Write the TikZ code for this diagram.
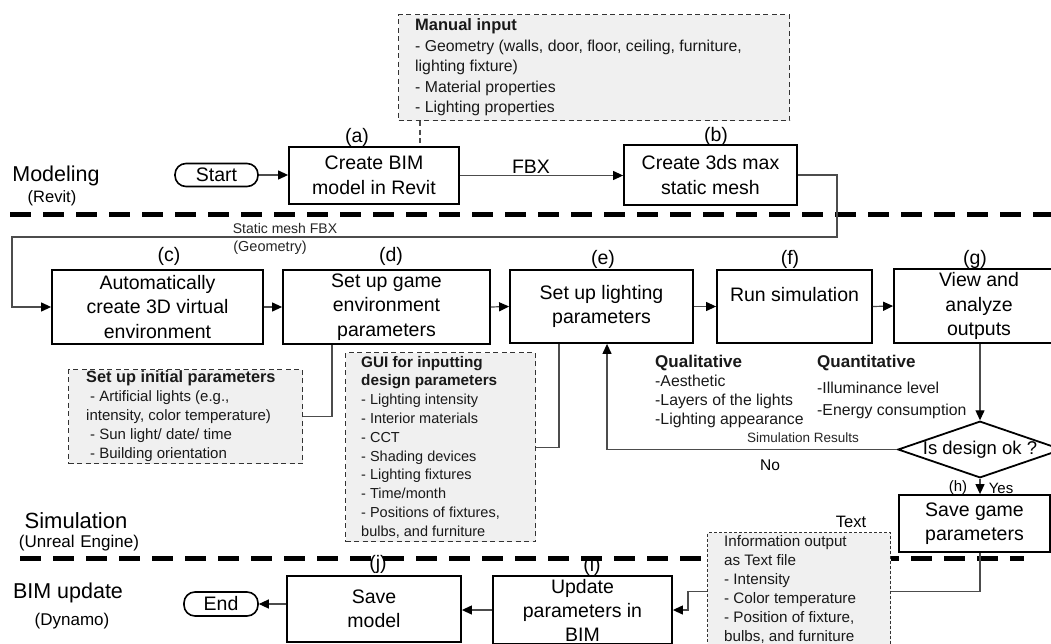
\documentclass[tikz,border=0pt]{standalone}
\usepackage{fontspec}
\setmainfont{Liberation Sans}
\usetikzlibrary{arrows.meta,shapes.geometric}
\begin{document}
\begin{tikzpicture}[x=1pt,y=-1pt,
  stepbox/.style={draw, line width=1.8pt, fill=white, inner sep=0pt, align=center,
    font=\fontsize{19.5}{24.5}\selectfont},
  term/.style={draw, line width=1.6pt, fill=white, rounded corners=11pt, inner sep=0pt,
    font=\fontsize{19.5}{24}\selectfont},
  decision/.style={draw, diamond, line width=1.8pt, fill=white, inner sep=0pt,
    shape aspect=2.9, minimum width=162, minimum height=55,
    font=\fontsize{18.5}{22}\selectfont},
  notebox/.style={draw=black!80, line width=1.2pt, dash pattern=on 5pt off 3.5pt,
    fill=black!6, inner sep=0pt},
  infobox/.style={notebox, dash pattern=on 3pt off 2pt},
  notetext/.style={align=left, inner sep=0pt, text=black!90},
  link/.style={draw=black!70, line width=1.2pt},
  conn/.style={link, -{Triangle[length=10pt,width=9pt,color=black]}},
  lbl/.style={inner sep=0pt, font=\fontsize{19.5}{24}\selectfont},
  small/.style={inner sep=0pt, font=\fontsize{14}{17}\selectfont, text=black!85},
  mid/.style={inner sep=0pt, font=\fontsize{15.5}{19}\selectfont},
  sect/.style={line width=5pt, dash pattern=on 21pt off 12pt},
]
\useasboundingbox (0,0) rectangle (1051,644);
\fill[white] (0,0) rectangle (1051,644);
\clip (0,0) rectangle (1051,644);

% lane separators
\draw[sect] (10,215) -- (1060,215);
\draw[sect] (20,558) -- (1024,558);

% lane titles
\node[inner sep=0pt, font=\fontsize{21.5}{24}\selectfont] (modeling) at (56,176) {Modeling};
\node[inner sep=0pt, font=\fontsize{16.5}{20}\selectfont] (revit) at (52,198) {(Revit)};
\node[inner sep=0pt, font=\fontsize{22}{24}\selectfont] (simulation) at (76,521) {Simulation};
\node[inner sep=0pt, font=\fontsize{17}{20}\selectfont] (unreal) at (79,543) {(Unreal\,\,Engine)};
\node[inner sep=0pt, font=\fontsize{21.5}{24}\selectfont] (bimupdate) at (68,593) {BIM update};
\node[inner sep=0pt, font=\fontsize{17}{20}\selectfont] (dynamo) at (72,621) {(Dynamo)};

% manual input note
\node[notebox, minimum width=391, minimum height=106, anchor=north west] (manual) at (398,14) {};
\node[notetext, anchor=west, font=\fontsize{15.8}{20.5}\selectfont] (manualtxt) at ([xshift=17]manual.west)
  {{\fontsize{16.5}{20.5}\selectfont\bfseries Manual input}\\- Geometry (walls, door, floor, ceiling, furniture,\\lighting fixture)\\- Material properties\\- Lighting properties};

% modeling steps
\node[term, minimum width=83, minimum height=23] (start) at (216.5,175) {Start};
\node[stepbox, minimum width=170, minimum height=57] (a) at (374,175.5) {Create BIM\\model in Revit};
\node[stepbox, minimum width=173, minimum height=60] (b) at (710.5,175) {Create 3ds max\\static mesh};
\node[lbl] (la) at (357,137) {(a)};
\node[lbl] (lb) at (716,136) {(b)};

\coordinate (mi) at (420,0);
\draw[draw=black!70, line width=1.1pt, dash pattern=on 5pt off 3.5pt] (manual.south -| mi) -- (a.north -| mi);
\draw[conn] (start.east) -- (start.east -| a.west);
\draw[conn] (a.east) -- (a.east -| b.west);
\node[lbl] (fbx) at (531,167) {FBX};

% simulation steps
\node[stepbox, minimum width=211, minimum height=74] (c) at (157.5,307) {Automatically\\create 3D virtual\\environment};
\node[stepbox, minimum width=207, minimum height=74] (d) at (386.5,307) {Set up game\\environment\\parameters};
\node[stepbox, minimum width=183, minimum height=73] (e) at (601.5,306.5) {Set up lighting\\parameters};
\node[stepbox, minimum width=155, minimum height=73] (f) at (794.5,306.5) {Run simulation\\\mbox{}};
\node[stepbox, minimum width=170, minimum height=74] (g) at (979,306) {View and\\analyze\\outputs};
\node[lbl] (lc) at (169,256) {(c)};
\node[lbl] (ld) at (391,256) {(d)};
\node[lbl] (le) at (603,259) {(e)};
\node[lbl] (lf) at (790,259) {(f)};
\node[lbl] (lg) at (975,259) {(g)};

\coordinate (r1) at (837,237);
\coordinate (l1) at (12,237);
\draw[conn] (b.east) -| (r1) -- (l1) |- (c.west);
\node[small] (smfbx) at (285,228) {Static mesh FBX};
\node[small, font=\fontsize{14.5}{17}\selectfont] (geom) at (270,248) {(Geometry)};

\draw[conn] (c.east) -- (d.west);
\draw[conn] (d.east) -- (e.west);
\draw[conn] (e.east) -- (f.west);
\draw[conn] (f.east) -- (g.west);

% parameter notes
\node[notebox, minimum width=234, minimum height=94, anchor=north west] (init) at (68,369) {};
\node[notetext, anchor=west, font=\fontsize{15}{19}\selectfont] (inittxt) at ([xshift=18]init.west)
  {{\fontsize{16.3}{19}\selectfont\bfseries Set up initial parameters}\\\hspace*{4pt}- Artificial lights (e.g.,\\intensity, color temperature)\\\hspace*{4pt}- Sun light/ date/ time\\\hspace*{4pt}- Building orientation};
\draw[link] ([xshift=-54.5]d.south) |- (init.east);

\node[notebox, minimum width=190, minimum height=189, anchor=north west] (gui) at (345,352) {};
\node[notetext, anchor=west, font=\fontsize{14.5}{18.8}\selectfont] (guitxt) at ([xshift=16]gui.west)
  {{\fontsize{15.3}{18.8}\selectfont\bfseries GUI for inputting}\\{\fontsize{15.3}{18.8}\selectfont\bfseries design parameters}\\- Lighting intensity\\- Interior materials\\- CCT\\- Shading devices\\- Lighting fixtures\\- Time/month\\- Positions of fixtures,\\bulbs, and furniture};
\draw[link] (gui.east) -| ([xshift=-42.5]e.south);

% evaluation criteria
\node[notetext, anchor=north west, font=\fontsize{15.8}{19}\selectfont] (qual) at (655,355)
  {{\fontsize{17}{19}\selectfont\bfseries Qualitative}\\-Aesthetic\\-Layers of the lights\\-Lighting appearance};
\node[notetext, anchor=north west, font=\fontsize{15.8}{19}\selectfont] (quant) at (817,355)
  {{\fontsize{17}{19}\selectfont\bfseries Quantitative}\\[6.5pt]-Illuminance level\\[3pt]-Energy consumption};

% decision
\node[decision] (dia) at (980,449.5) {Is design ok ?};
\draw[conn] (g.south -| dia.north) -- (dia.north);
\draw[conn] (dia.west) -| ([xshift=5.5]e.south);
\node[small, font=\fontsize{13.5}{16}\selectfont] (simres) at (803,438) {Simulation Results};
\node[mid] (no) at (770,465) {No};

\node[stepbox, minimum width=151, minimum height=57] (save) at (974.5,523.5) {Save game\\parameters};
\draw[conn] (dia.south) -- (dia.south |- save.north);
\node[mid, font=\fontsize{15}{18}\selectfont] (lh) at (958,488) {(h)};
\node[mid, font=\fontsize{15}{18}\selectfont] (yes) at (1001,488) {Yes};

% text export
\node[infobox, minimum width=183, minimum height=118, anchor=north west] (info) at (707,532) {};
\node[notetext, anchor=west, font=\fontsize{15.2}{19}\selectfont] (infotxt) at ([xshift=17,yshift=2]info.west)
  {Information output\\as Text file\\- Intensity\\- Color temperature\\- Position of fixture,\\bulbs, and furniture};
\node[inner sep=0pt, font=\fontsize{16.5}{20}\selectfont] (textlbl) at (851,522) {Text};
\draw[link] (save.south -| dia.south) |- (info.east);

% BIM update steps
\node[stepbox, minimum width=179, minimum height=68, font=\fontsize{19.5}{24}\selectfont] (ibox) at (582.5,610) {Update\\parameters in\\BIM};
\node[stepbox, minimum width=174, minimum height=66] (jbox) at (374,609) {Save\\model};
\node[term, minimum width=74, minimum height=24] (end) at (221,604) {End};
\node[lbl] (li) at (592,566) {(i)};
\node[lbl] (lj) at (378,564) {(j)};

\draw[conn] (info.west) -- ++(-19,0) |- (ibox.east);
\draw[conn] (ibox.west) -- (ibox.west -| jbox.east);
\draw[conn] (jbox.west |- end.east) -- (end.east);
\end{tikzpicture}
\end{document}
